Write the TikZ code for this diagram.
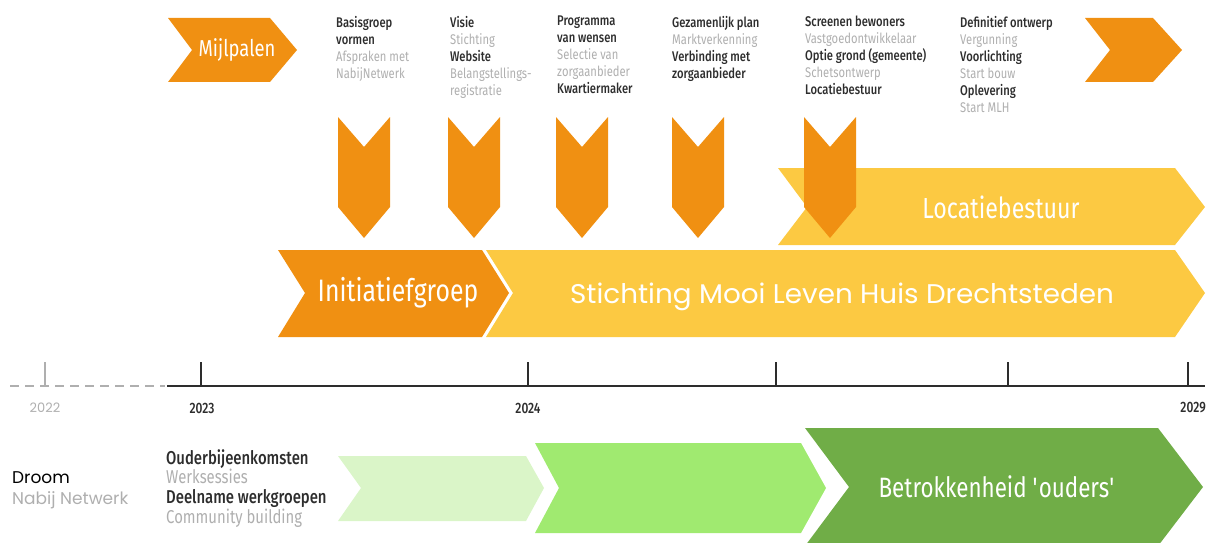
\documentclass[tikz,border=0pt]{standalone}
\usepackage{fontspec}
\setmainfont{Fira Sans}
\newfontfamily\cond[FakeStretch=0.8]{Fira Sans}
\newfontfamily\condm[FakeStretch=0.8]{Fira Sans Medium}
\newfontfamily\geo{Poppins}
\newfontfamily\geow[FakeStretch=1.03]{Poppins}
\definecolor{mlOrange}{RGB}{240,144,18}
\definecolor{mlYellow}{RGB}{252,201,66}
\definecolor{mlDark}{RGB}{45,45,45}
\definecolor{mlGray}{RGB}{175,175,175}
\definecolor{gLight}{RGB}{218,245,200}
\definecolor{gMid}{RGB}{160,234,112}
\definecolor{gDark}{RGB}{112,173,71}
\newcommand{\dkline}{\condm\color{mlDark}}
\newcommand{\grline}{\cond\color{mlGray}}
\tikzset{
  orangeshape/.style={fill=mlOrange},
  yellowshape/.style={fill=mlYellow},
  ms/.style={anchor=north west, inner sep=0pt, align=left, font=\cond\fontsize{14}{17}\selectfont},
  bigwhite/.style={text=white, inner sep=0pt},
  yearlab/.style={inner sep=0pt, font=\condm\fontsize{15}{17}\selectfont, text=mlDark},
  tick/.style={line width=1.2pt, mlDark},
}
\begin{document}
\begin{tikzpicture}[x=1pt,y=-1pt]
\useasboundingbox (0,0) rectangle (1211,543);
% top chevrons
\fill[orangeshape] (168,18) -- (270,18) -- (297,50) -- (270,82) -- (168,82) -- (192,50) -- cycle;
\node[bigwhite, font=\cond\fontsize{23}{26}\selectfont] (mijl) at (237,50) {Mijlpalen};
\fill[orangeshape] (1085,18) -- (1153,18) -- (1182,50) -- (1153,82) -- (1085,82) -- (1110,50) -- cycle;
% milestone texts
\node[ms] (m1) at (336,16) {\dkline Basisgroep\\\dkline vormen\\\grline Afspraken met\\\grline NabijNetwerk};
\node[ms] (m2) at (450,16) {\dkline Visie\\\grline Stichting\\\dkline Website\\\grline Belangstellings-\\\grline registratie};
\node[ms] (m3) at (557,16) {\dkline Programma\\\dkline van wensen\\\grline Selectie van\\\grline zorgaanbieder\\\dkline Kwartiermaker};
\node[ms] (m4) at (672,16) {\dkline Gezamenlijk plan\\\grline Marktverkenning\\\dkline Verbinding met\\\dkline zorgaanbieder};
\node[ms] (m5) at (805,16) {\dkline Screenen bewoners\\\grline Vastgoedontwikkelaar\\\dkline Optie grond (gemeente)\\\grline Schetsontwerp\\\dkline Locatiebestuur};
\node[ms] (m6) at (960,16) {\dkline Definitief ontwerp\\\grline Vergunning\\\dkline Voorlichting\\\grline Start bouw\\\dkline Oplevering\\\grline Start MLH};
% Locatiebestuur band
\fill[yellowshape] (778,168) -- (1175,168) -- (1205,207) -- (1175,245) -- (778,245) -- (807,207) -- cycle;
\node[bigwhite, font=\cond\fontsize{29}{32}\selectfont] (loc) at (1001,207) {Locatiebestuur};
% down chevrons
\foreach \c in {364,474,582,698,830}{
  \fill[orangeshape] (\c-26,117) -- (\c,147) -- (\c+26,117) -- (\c+26,207) -- (\c,238) -- (\c-26,207) -- cycle;
}
% main bands
\fill[orangeshape] (278,250) -- (482,250) -- (509,293) -- (482,337) -- (278,337) -- (305,293) -- cycle;
\node[bigwhite, font=\cond\fontsize{31}{34}\selectfont] (init) at (398,293) {Initiatiefgroep};
\fill[yellowshape] (486,250) -- (1175,250) -- (1205,293) -- (1175,337) -- (486,337) -- (513,293) -- cycle;
\node[bigwhite, font=\geow\fontsize{27}{30}\selectfont] (stich) at (842,297) {Stichting Mooi Leven Huis Drechtsteden};
% timeline
\draw[mlGray, line width=1.2pt, dash pattern=on 9pt off 6pt] (10,386) -- (165,386);
\draw[mlGray, line width=1.2pt] (45,362) -- (45,386);
\draw[mlDark, line width=1.4pt] (167,386) -- (1205,386);
\foreach \t in {201,528,776,1008,1188}{ \draw[tick] (\t,362) -- (\t,386); }
\node[yearlab, text=mlGray, font=\geo\fontsize{13}{15}\selectfont] (y22) at (45,408) {2022};
\node[yearlab] (y23) at (202,408) {2023};
\node[yearlab] (y24) at (528,408) {2024};
\node[yearlab, anchor=east] (y29) at (1206,408) {2029};
% bottom
\node[anchor=west, inner sep=0pt, font=\geo\fontsize{17}{19}\selectfont, text=black] (droom) at (12,478) {Droom};
\node[anchor=west, inner sep=0pt, font=\geo\fontsize{17}{19}\selectfont, text=mlGray] (nabij) at (12,500) {Nabij Netwerk};
\node[ms, font=\cond\fontsize{18.6}{19.7}\selectfont] (ouder) at (166,449) {\dkline Ouderbijeenkomsten\\\grline Werksessies\\\dkline Deelname werkgroepen\\\grline Community building};
\fill[gLight] (338,456) -- (526,456) -- (544,488) -- (526,521) -- (338,521) -- (361,488) -- cycle;
\fill[gMid] (535,443) -- (801,443) -- (826,488) -- (801,533) -- (535,533) -- (559,488) -- cycle;
\fill[gDark] (805,428) -- (1158,428) -- (1203,487) -- (1158,546) -- (805,546) -- (849,487) -- cycle;
\node[bigwhite, font=\cond\fontsize{28}{31}\selectfont] (betr) at (997,487) {Betrokkenheid \textquotesingle ouders\textquotesingle};
\end{tikzpicture}
\end{document}
